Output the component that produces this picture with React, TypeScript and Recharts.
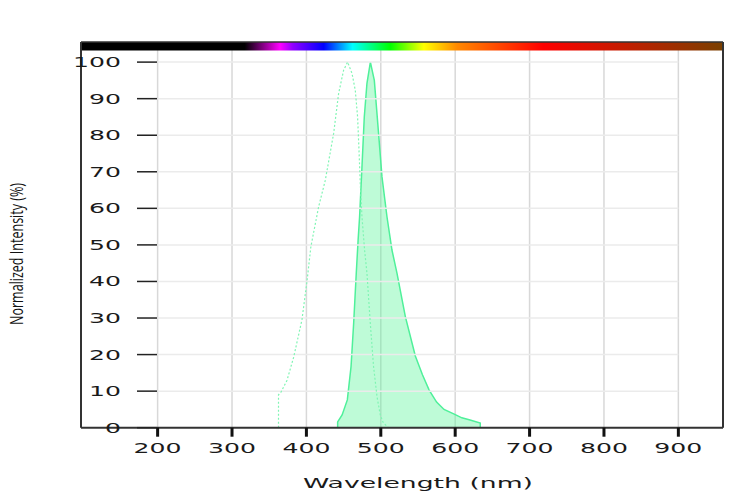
import React from "react";
import {
  ComposedChart,
  Area,
  Line,
  XAxis,
  YAxis,
  CartesianGrid,
  ReferenceLine,
  ReferenceArea,
  Label,
} from "recharts";

// wavelength (nm) / normalized intensity (%)
const emissionNm = [442, 442, 448, 455, 460, 463.5, 467, 469.5, 471.5, 474.7, 477.8, 481.4, 486, 491.3, 497, 501.6, 508.3, 515, 521.8, 533, 546.4, 556, 565, 575, 585, 598, 609, 620, 633.7, 633.7];
const emissionVal = [0, 1.6, 3.5, 7.6, 16.7, 28.5, 42.2, 51.3, 57.7, 71.4, 85, 94.2, 100, 95, 80.5, 68.6, 57.7, 48.6, 42.2, 30.4, 19.6, 14.5, 10.3, 7, 5, 3.8, 2.7, 2.1, 1.3, 0];

const excitationNm = [362.5, 362.5, 366, 374, 383, 394, 401, 406, 416.4, 425.4, 436.6, 443.3, 450, 455.4, 461.3, 465.7, 468.8, 470.7, 472.4, 474.7, 478.2, 481.4, 485.9, 490.3, 494.9, 499.3, 503, 510];
const excitationVal = [0, 9, 9.8, 13, 19.4, 29.5, 40.4, 49.5, 60.4, 67.7, 80.5, 91.4, 97.8, 100, 96.9, 92.3, 85, 75.9, 66.8, 57.7, 48.6, 42.2, 28.5, 16.7, 8.5, 3.5, 1.5, 0];

const wavelengthTicks = [200, 300, 400, 500, 600, 700, 800, 900];
const intensityTicks = [0, 10, 20, 30, 40, 50, 60, 70, 80, 90, 100];
const gridLevels = [10, 20, 30, 40, 50, 60, 70, 80, 90, 100];

const emissionData = emissionNm.map((nm, i) => ({ nm, value: emissionVal[i] }));
const excitationData = excitationNm.map((nm, i) => ({ nm, value: excitationVal[i] }));

// color bar along the top: [offset, color]
const spectrumStops: [number, string][] = [
  [0, "#000000"],
  [0.255, "#000000"],
  [0.31, "#ff00ff"],
  [0.33, "#9000ff"],
  [0.378, "#0000ff"],
  [0.423, "#00ffff"],
  [0.482, "#00ff00"],
  [0.534, "#ffff00"],
  [0.586, "#ff8800"],
  [0.72, "#ff0000"],
  [1, "#7a4000"],
];

const FONT = "'DejaVu Sans', sans-serif";
const X_MIN = 97;
const X_MAX = 960;
const Y_MAX = 105.5;

const YTick = (props: any) => {
  const { y, payload } = props;
  const label = String(payload.value);
  return (
    <g>
      <text
        x={121}
        y={y}
        dy={5}
        textAnchor="end"
        fontFamily={FONT}
        fontSize={13.5}
        fill="#1a1a1a"
        textLength={16 * label.length}
        lengthAdjust="spacingAndGlyphs"
      >
        {label}
      </text>
      <line x1={137} x2={157} y1={y} y2={y} stroke="#222" strokeWidth={1.5} />
    </g>
  );
};

const XTick = (props: any) => {
  const { x, payload } = props;
  const label = String(payload.value);
  return (
    <text
      x={x}
      y={453}
      textAnchor="middle"
      fontFamily={FONT}
      fontSize={13.5}
      fill="#1a1a1a"
      textLength={16 * label.length}
      lengthAdjust="spacingAndGlyphs"
    >
      {label}
    </text>
  );
};

const XTitle = () => (
  <text
    x={418}
    y={488}
    textAnchor="middle"
    fontFamily={FONT}
    fontSize={14.5}
    fill="#1a1a1a"
    textLength={230}
    lengthAdjust="spacingAndGlyphs"
  >
    Wavelength (nm)
  </text>
);

const YTitle = () => (
  <text
    x={23}
    y={254}
    transform="rotate(-90 23 254)"
    textAnchor="middle"
    fontFamily="'Open Sans', sans-serif"
    fontSize={18}
    fill="#111"
    textLength={142}
    lengthAdjust="spacingAndGlyphs"
  >
    Normalized Intensity (%)
  </text>
);

export default function App() {
  return (
    <div style={{ position: "absolute", left: 0, top: 0, background: "#fff" }}>
      <ComposedChart width={750} height={502} margin={{ top: 42, right: 27, bottom: 0, left: 0 }}>
        <defs>
          <linearGradient id="spectrum" x1="0" y1="0" x2="1" y2="0">
            {spectrumStops.map(([o, c]) => (
              <stop key={o} offset={o} stopColor={c} />
            ))}
          </linearGradient>
        </defs>
        <CartesianGrid horizontal={false} stroke="#d8d8d8" strokeWidth={1.5} />
        {gridLevels.map(v => (
          <ReferenceLine
            key={v}
            segment={[{ x: 200, y: v }, { x: 900, y: v }]}
            stroke="#ebebeb"
            strokeWidth={1.5}
          />
        ))}
        <XAxis
          type="number"
          dataKey="nm"
          domain={[X_MIN, X_MAX]}
          allowDataOverflow
          ticks={wavelengthTicks}
          height={74.3}
          axisLine={{ stroke: "#333", strokeWidth: 2 }}
          tickLine={{ stroke: "#111", strokeWidth: 3 }}
          tickSize={9}
          tick={<XTick />}
        >
          <Label content={<XTitle />} />
        </XAxis>
        <YAxis
          type="number"
          domain={[0, Y_MAX]}
          allowDataOverflow
          ticks={intensityTicks}
          width={81}
          axisLine={{ stroke: "#333", strokeWidth: 2 }}
          tickLine={false}
          tick={<YTick />}
        >
          <Label content={<YTitle />} />
        </YAxis>
        <Area
          data={emissionData}
          dataKey="value"
          type="linear"
          stroke="#4ff09a"
          strokeWidth={1.5}
          fill="#5cf59c"
          fillOpacity={0.4}
          isAnimationActive={false}
        />
        <Line
          data={excitationData}
          dataKey="value"
          type="linear"
          stroke="#80f5b4"
          strokeWidth={1.2}
          strokeDasharray="2 2"
          dot={false}
          isAnimationActive={false}
        />
        <ReferenceArea x1={X_MIN} x2={X_MAX} y1={103.2} y2={Y_MAX} fill="url(#spectrum)" fillOpacity={1} stroke="none" />
        <ReferenceLine y={Y_MAX} stroke="#333" strokeWidth={1.5} />
        <ReferenceLine x={X_MAX} stroke="#333" strokeWidth={2} />
      </ComposedChart>
    </div>
  );
}
